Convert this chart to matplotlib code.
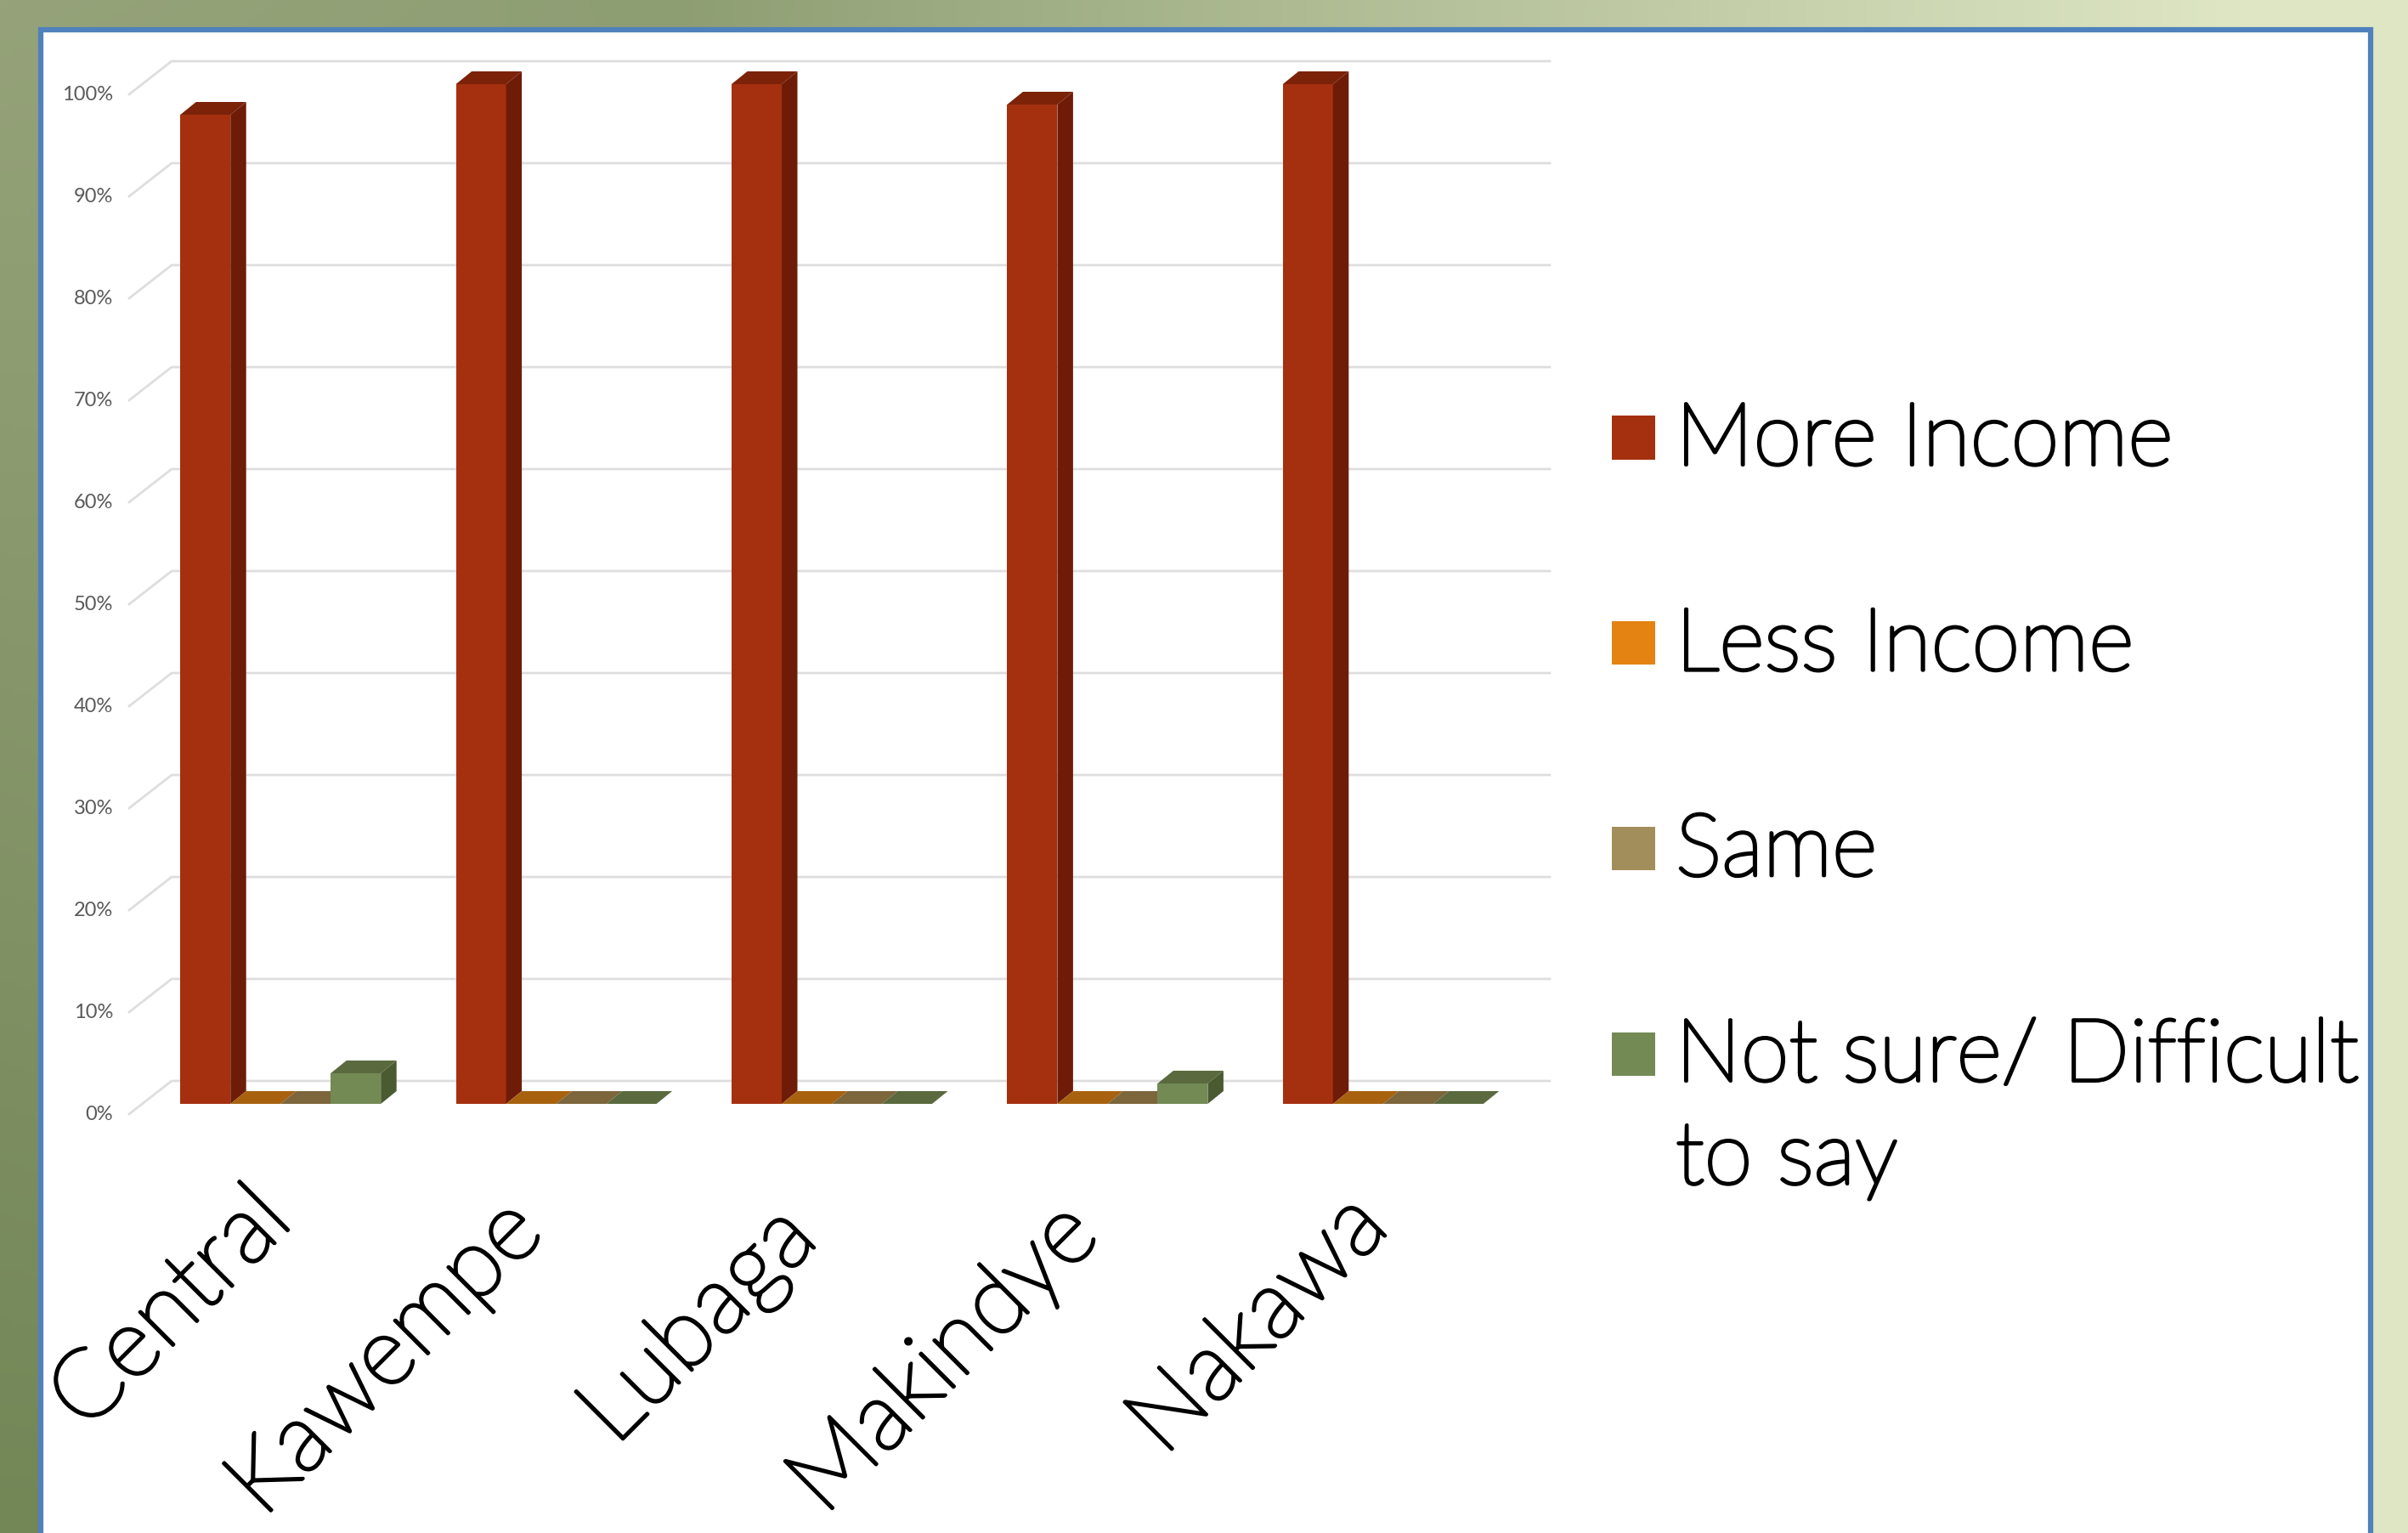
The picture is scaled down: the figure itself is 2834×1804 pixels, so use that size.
import numpy as np
import matplotlib
matplotlib.use('Agg')
import matplotlib.pyplot as plt
import matplotlib.patheffects as pe
from matplotlib.patches import Polygon, Rectangle
from matplotlib.transforms import Affine2D, offset_copy

W, H = 2834, 1804

districts = ['Central', 'Kawempe', 'Lubaga', 'Makindye', 'Nakawa']
series_names = ['More Income', 'Less Income', 'Same', 'Not sure/ Difficult\nto say']
more_income = [97, 100, 100, 98, 100]
less_income = [0, 0, 0, 0, 0]
same = [0, 0, 0, 0, 0]
not_sure = [3, 0, 0, 2, 0]
y_ticks = [0, 10, 20, 30, 40, 50, 60, 70, 80, 90, 100]

front_cols = ['#a5300f', '#e48312', '#a28e5a', '#738a55']
top_cols = ['#7b2209', '#a8620f', '#7d653c', '#5a6a3e']
side_cols = ['#6e1c08', '#a8620f', '#7d653c', '#4a5b32']

plt.rcParams['font.family'] = ['Lato', 'DejaVu Sans']

fig = plt.figure(figsize=(W / 100, H / 100), dpi=100)

# the light Lato is a hairline, fatten it a bit
fat = [pe.withStroke(linewidth=2.8, foreground='black')]


def box(x0, y0, x1, y1):
    # pixel box, y counted from the top of the picture
    return [x0 / W, 1 - y1 / H, (x1 - x0) / W, (y1 - y0) / H]


# green backdrop, stays dark for the first third then fades out to the right
bg = fig.add_axes([0, 0, 1, 1], zorder=0)
bg.axis('off')
xx, yy = np.meshgrid(np.linspace(0, 1, 400), np.linspace(0, 1, 250))
c_tl = np.array([0x96, 0xa3, 0x7a])
c_mid = np.array([0x8e, 0x9e, 0x73])
c_bl = np.array([0x72, 0x86, 0x56])
c_tr = np.array([0xde, 0xe6, 0xc3])
left = c_tl + (c_bl - c_tl) * yy[..., None]
s = np.clip(xx / 0.28, 0, 1)[..., None]
r = np.clip((xx - 0.28) / 0.65, 0, 1)[..., None]
grad = left + (c_mid - left) * s * (1 - yy[..., None])
grad = (grad + (c_tr - grad) * r) / 255
bg.imshow(grad, aspect='auto', extent=[0, 1, 0, 1], origin='upper')
bg.set_xlim(0, 1)
bg.set_ylim(0, 1)
bg.add_patch(Rectangle((48 / W, -0.1), (2790 - 48) / W, 1.1 - 35 / H, facecolor='white',
                       edgecolor='#4f81bd', linewidth=4.5, transform=bg.transAxes))

# chart axes: front plane of the bars
ax = fig.add_axes(box(168, 99, 1790, 1299), zorder=1)
ax.patch.set_alpha(0)
ax.set_xlim(0, 5)
ax.set_ylim(0, 100)
ax.axis('off')

# depth of the walls, in pixels
back = ax.transData + Affine2D().translate(34, 27)
tip = ax.transData + Affine2D().translate(-16, -12)

for v in y_ticks:
    p0 = tip.transform((0, v))
    p1 = back.transform((0, v))
    p2 = back.transform((5, v))
    fig.add_artist(plt.Line2D([p0[0] / W, p1[0] / W, p2[0] / W], [p0[1] / H, p1[1] / H, p2[1] / H],
                              color='#dedede', lw=2, zorder=0.5))
    ax.text(0, v, '%d%%' % v, transform=offset_copy(tip, fig=fig, x=-19, y=-1, units='dots'),
            ha='right', va='center', fontsize=17, color='#595959', clip_on=False)

values = [more_income, less_income, same, not_sure]
bar_w = 59 / 324.4
gap = (1 - 4 * bar_w) / 2
dx = 18.5 / 324.4
dy = 15 / 12

for j, vals in enumerate(values):
    pos = np.arange(5) + gap + (j + 0.5) * bar_w
    ax.bar(pos, vals, bar_w, color=front_cols[j], linewidth=0, zorder=2 + j)
    for x, v in zip(pos, vals):
        l, r_edge = x - bar_w / 2, x + bar_w / 2
        ax.add_patch(Polygon([(l, v), (r_edge, v), (r_edge + dx, v + dy), (l + dx, v + dy)],
                             facecolor=top_cols[j], lw=0, zorder=2 + j, clip_on=False))
        if v > 0:
            ax.add_patch(Polygon([(r_edge, 0), (r_edge + dx, dy), (r_edge + dx, v + dy), (r_edge, v)],
                                 facecolor=side_cols[j], lw=0, zorder=2 + j, clip_on=False))

# category labels, rotated, right end under each group
label_ends = [(290, 1382), (586, 1396), (908, 1404), (1240, 1400), (1580, 1390)]
for name, (px, py) in zip(districts, label_ends):
    fig.text(px / W, 1 - py / H, name, rotation=45, rotation_mode='anchor', ha='right', va='top',
             fontsize=81, color='black', weight='light', path_effects=fat)

# legend
for k, name in enumerate(series_names):
    cy = 515 + 241.7 * k
    fig.add_artist(Rectangle((1897 / W, 1 - (cy + 25.5) / H), 51 / W, 51 / H, facecolor=front_cols[k],
                             lw=0, transform=fig.transFigure))
    lines = name.split('\n')
    fig.text(1972 / W, 1 - (cy + 32) / H, lines[0], ha='left', va='baseline', fontsize=74, color='black',
             weight='light', path_effects=fat)
    if len(lines) > 1:
        fig.text(1972 / W, 1 - (cy + 32 + 121) / H, lines[1], ha='left', va='baseline',
                 fontsize=74, color='black', weight='light', path_effects=fat)

fig.savefig('out.png', dpi=100)
